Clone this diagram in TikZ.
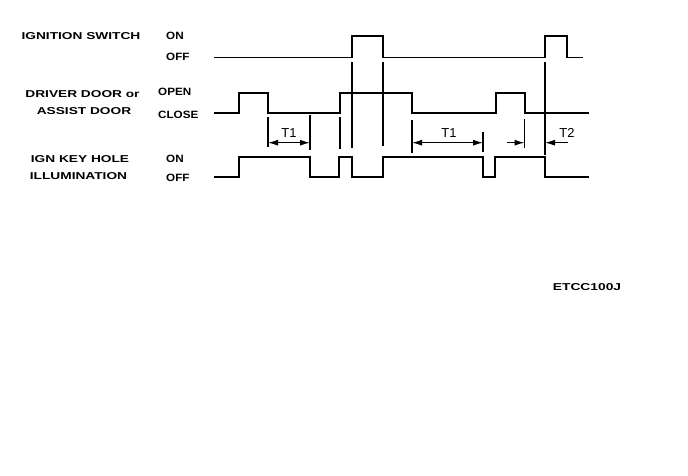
\documentclass[tikz,border=0pt]{standalone}
\usepackage{fontspec}
\setmainfont{Liberation Sans}
\newfontfamily\lblfont[FakeStretch=1.37]{Liberation Sans}
\newfontfamily\lvlfont[FakeStretch=1.1]{Liberation Sans}
\newfontfamily\codefont[FakeStretch=1.38]{Liberation Sans}
\usetikzlibrary{arrows.meta}
\begin{document}
\begin{tikzpicture}[x=1pt,y=-1pt,
  wave/.style={line width=1.8pt,line join=miter},
  thinwave/.style={line width=1.3pt,line join=miter},
  thinmark/.style={line width=1.3pt},
  thickmark/.style={line width=2.4pt},
  dim/.style={line width=1.1pt,-{Latex[length=10pt,width=6pt]}},
  dimboth/.style={line width=1.1pt,{Latex[length=10pt,width=6pt]}-{Latex[length=10pt,width=6pt]}},
  lbl/.style={font=\lblfont\bfseries\fontsize{10}{11}\selectfont,inner sep=0pt,align=center},
  lvl/.style={font=\lvlfont\bfseries\fontsize{10.6}{11}\selectfont,inner sep=0pt,anchor=west},
  tlbl/.style={font=\fontsize{13}{14}\selectfont,inner sep=0pt}]
\useasboundingbox (0,0) rectangle (688,476);
% left labels
\node[lbl] (l1) at (81,36.3) {IGNITION SWITCH};
\node[lbl] (l2) at (82.5,94) {DRIVER DOOR or};
\node[lbl] (l3) at (84,111) {ASSIST DOOR};
\node[lbl] (l4) at (80,159) {IGN KEY HOLE};
\node[lbl] (l5) at (78.5,176) {ILLUMINATION};
% level labels
\node[lvl] (v1) at (166,35.5) {ON};
\node[lvl] (v2) at (166,57) {OFF};
\node[lvl] (v3) at (158,92) {OPEN};
\node[lvl] (v4) at (158,114.5) {CLOSE};
\node[lvl] (v5) at (166,159) {ON};
\node[lvl] (v6) at (166,177.5) {OFF};
% code
\node[font=\codefont\bfseries\fontsize{10}{11}\selectfont,inner sep=0pt] (code) at (587,286.7) {ETCC100J};
% waveforms
\draw[thinwave] (214,57.5) -- (352,57.5) -- (352,36) -- (383,36) -- (383,57.5) -- (545,57.5) -- (545,36) -- (567,36) -- (567,57.5) -- (583,57.5);
\draw[wave] (214,113) -- (239,113) -- (239,93) -- (268,93) -- (268,113) -- (340,113) -- (340,93) -- (412,93) -- (412,113) -- (496,113) -- (496,93) -- (525,93) -- (525,113) -- (589,113);
\draw[wave] (214,177) -- (239,177) -- (239,157) -- (310,157) -- (310,177) -- (339,177) -- (339,157) -- (352,157) -- (352,177) -- (383,177) -- (383,157) -- (483,157) -- (483,177) -- (495,177) -- (495,157) -- (545,157) -- (545,177) -- (589,177);
% marker lines
\coordinate (a1) at (268,117); \coordinate (a2) at (268,147);
\coordinate (b1) at (310,115); \coordinate (b2) at (310,150);
\coordinate (c1) at (340,117); \coordinate (c2) at (340,149);
\coordinate (d1) at (352,62);  \coordinate (d2) at (352,148);
\coordinate (e1) at (383,62);  \coordinate (e2) at (383,146);
\coordinate (f1) at (412,120); \coordinate (f2) at (412,153);
\coordinate (g1) at (483,132); \coordinate (g2) at (483,152);
\coordinate (h1) at (524.5,119); \coordinate (h2) at (524.5,148);
\coordinate (k1) at (545,62);  \coordinate (k2) at (545,155);
\draw[thinmark] (a1) -- (a2);
\draw[thinmark] (b1) -- (b2);
\draw[thinmark] (c1) -- (c2);
\draw[thickmark] (d1) -- (d2);
\draw[thickmark] (e1) -- (e2);
\draw[thickmark] (f1) -- (f2);
\draw[thinmark] (g1) -- (g2);
\draw[thinmark] (h1) -- (h2);
\draw[thickmark] (k1) -- (k2);
% dimension arrows
\coordinate (p1) at (268,142.7); \coordinate (p2) at (310,142.7);
\coordinate (q1) at (412,142.7); \coordinate (q2) at (483,142.7);
\coordinate (r0) at (507,142.7); \coordinate (r1) at (524.5,142.7);
\coordinate (s0) at (568,142.7); \coordinate (s1) at (545,142.7);
\draw[dimboth] (p1) -- (p2);
\draw[dimboth] (q1) -- (q2);
\draw[dim] (r0) -- (r1);
\draw[dim] (s0) -- (s1);
\node[tlbl] (t1) at (289,133) {T1};
\node[tlbl] (t2) at (449,133) {T1};
\node[tlbl] (t3) at (567,133) {T2};
\end{tikzpicture}
\end{document}
